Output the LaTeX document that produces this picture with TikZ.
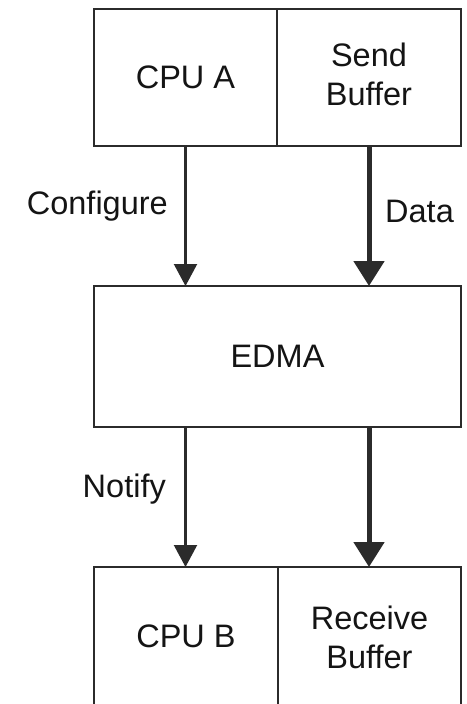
\documentclass[tikz,border=0pt]{standalone}
\usepackage{fontspec}
\setmainfont{Liberation Sans}
\usetikzlibrary{arrows.meta}
\definecolor{ink}{HTML}{2B2B2B}
\definecolor{txt}{HTML}{141414}
\begin{document}
\begin{tikzpicture}[x=1pt,y=-1pt,
  box/.style={draw=ink,line width=2.1pt,minimum width=#1,inner sep=0pt,outer sep=0pt},
  lbl/.style={text=txt,font=\fontsize{32.5}{39}\selectfont,align=center,inner sep=0pt},
  thinflow/.style={draw=ink,line width=2.1pt,-{Triangle[width=23pt,length=22pt]}},
  thickflow/.style={draw=ink,line width=5pt,-{Triangle[width=30pt,length=25pt]}}]
\useasboundingbox (0,0) rectangle (466,704);
\clip (0,0) rectangle (466,704);
\fill[white] (0,0) rectangle (466,704);
% source side
\node[box=183pt,minimum height=137pt] (cpuA) at (185.5,77.5) {};
\node[box=184pt,minimum height=137pt] (sendbuf) at (369,77.5) {};
\node[lbl] (cpuAtxt) at (cpuA.center) {CPU A};
\node[lbl] (sendtxt) at ([yshift=3pt]sendbuf.center) {Send\\Buffer};
% transfer engine
\node[box=367pt,minimum height=141pt] (edma) at (277.5,356.5) {};
\node[lbl] (edmatxt) at (edma.center) {EDMA};
% destination side (runs past the lower edge)
\node[box=184pt,minimum height=160pt] (cpuB) at (186,647) {};
\node[box=183pt,minimum height=160pt] (recvbuf) at (369.5,647) {};
\node[lbl] (cpuBtxt) at ([yshift=-69pt]cpuB.north) {CPU B};
\node[lbl] (recvtxt) at ([yshift=-70pt]recvbuf.north) {Receive\\Buffer};
% connectors
\draw[thinflow] (cpuA.south) -- (cpuA.south |- edma.north);
\draw[thickflow] (sendbuf.south) -- (sendbuf.south |- edma.north);
\draw[thinflow] (cpuA.south |- edma.south) -- (cpuA.south |- cpuB.north);
\draw[thickflow] (sendbuf.south |- edma.south) -- (sendbuf.south |- recvbuf.north);
% connector labels
\node[lbl,anchor=east] (cfg) at (168,206) {Configure};
\node[lbl,anchor=west] (data) at (385,211) {Data};
\node[lbl,anchor=east] (notify) at (166,489) {Notify};
\end{tikzpicture}
\end{document}
